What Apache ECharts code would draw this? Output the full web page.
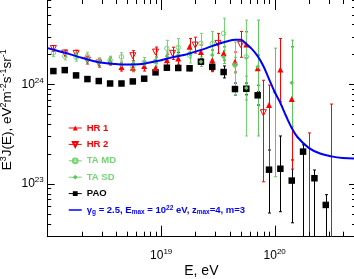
<!DOCTYPE html>
<html><head><meta charset="utf-8">
<script src="https://cdn.jsdelivr.net/npm/echarts@6/dist/echarts.min.js"></script>
<style>html,body{margin:0;padding:0;background:#fff}#c{width:354px;height:279px}</style>
</head><body><div id="c"></div>
<script>
// ---- axis ranges / ticks ----
const XMIN = 1e18, XMAX = 5.1e20, YMIN = 2.95e22, YMAX = 7.2e24;
const xMajor = [1e19, 1e20];
const xMinor = [2e18,3e18,4e18,5e18,6e18,7e18,8e18,9e18,2e19,3e19,4e19,5e19,6e19,7e19,8e19,9e19,2e20,3e20,4e20,5e20];
const yMajor = [1e23, 1e24];
const yMinor = [3e22,4e22,5e22,6e22,7e22,8e22,9e22,2e23,3e23,4e23,5e23,6e23,7e23,8e23,9e23,2e24,3e24,4e24,5e24,6e24,7e24];

// ---- HR 1 ----
const hr1E  = [3.548e18,4.467e18,5.623e18,7.079e18,8.913e18,1.122e19,1.413e19,1.778e19,2.239e19,2.818e19,3.548e19,4.467e19,5.623e19,7.079e19,8.913e19,1.122e20,1.413e20];
const hr1V  = [1.71e24,1.49e24,1.47e24,1.53e24,1.46e24,1.75e24,1.82e24,2.38e24,2.11e24,1.75e24,2.05e24,1.69e24,2.52e24,1.45e24,6.2e23,1.41e24,7.13e23];
const hr1EbE = [3.548e18,4.467e18,5.623e18,7.079e18,8.913e18,1.122e19,1.413e19,1.778e19,2.239e19,2.818e19,3.548e19,4.467e19,5.623e19,7.079e19,8.913e19,1.122e20,1.413e20,1.995e20,3.162e20];
const hr1Lo = [1.56e24,1.36e24,1.34e24,1.36e24,1.30e24,1.53e24,1.59e24,1.97e24,1.79e24,1.34e24,1.75e24,1.33e24,1.84e24,9.8e23,1.45e23,6.69e23,1.41e23,1e21,1e21];
const hr1Hi = [1.88e24,1.64e24,1.61e24,1.71e24,1.64e24,2.01e24,2.09e24,2.89e24,2.48e24,2.21e24,2.38e24,2.11e24,3.37e24,1.97e24,9.84e23,2.89e24,2.38e24,3.25e23,6.34e23];

// ---- HR 2 ----
const hr2E  = [1.122e18,1.413e18,1.778e18,2.239e18,2.818e18,5.623e18,8.913e18,1.259e19,1.995e19,3.162e19,5.012e19,7.943e19];
const hr2V  = [2.29e24,2.06e24,2.05e24,1.75e24,1.64e24,1.94e24,2.11e24,2.05e24,2.48e24,2.58e24,2.52e24,5.19e23];
const hr2Lo = [2.14e24,1.92e24,1.91e24,1.60e24,1.49e24,1.73e24,1.88e24,1.78e24,2.06e24,2.05e24,1.87e24,1.05e23];
const hr2Hi = [2.45e24,2.21e24,2.20e24,1.92e24,1.80e24,2.18e24,2.37e24,2.36e24,2.98e24,3.25e24,3.40e24,1.10e24];

// ---- TA MD ----
const tamdE  = [1.122e18,1.413e18,1.778e18,2.239e18,2.818e18,3.548e18,4.467e18,5.623e18,7.079e18,8.913e18,1.122e19,1.413e19,1.778e19,2.239e19,2.818e19,3.548e19,4.467e19,5.623e19];
const tamdV  = [2.07e24,1.92e24,1.87e24,1.92e24,1.69e24,1.75e24,1.89e24,1.50e24,1.67e24,1.69e24,2.30e24,2.35e24,1.97e24,2.58e24,2.58e24,3.25e24,1.56e24,1.89e24];
const tamdLo = [1.90e24,1.76e24,1.71e24,1.76e24,1.55e24,1.60e24,1.72e24,1.36e24,1.51e24,1.52e24,1.91e24,1.91e24,1.64e24,2.05e24,1.95e24,1.97e24,7.8e23,3.03e23];
const tamdHi = [2.26e24,2.10e24,2.04e24,2.10e24,1.85e24,1.92e24,2.08e24,1.66e24,1.86e24,1.88e24,2.77e24,2.89e24,2.37e24,3.25e24,3.40e24,4.62e24,2.67e24,4.42e24];

// ---- TA SD ----
const tasdE  = [1.778e18,2.239e18,2.818e18,3.548e18,4.467e18,5.623e18,7.079e18,8.913e18,1.122e19,1.413e19,1.778e19,2.239e19,2.818e19,3.548e19,4.467e19,5.623e19,7.079e19,1e20,1.413e20];
const tasdV  = [1.97e24,1.75e24,1.64e24,1.71e24,1.56e24,1.60e24,1.60e24,1.75e24,1.92e24,1.97e24,2.06e24,1.69e24,1.97e24,1.88e24,1.56e24,9.2e23,1.50e24,8.37e23,1.04e24];
const tasdLo = [1.84e24,1.63e24,1.53e24,1.60e24,1.45e24,1.49e24,1.49e24,1.63e24,1.75e24,1.80e24,1.84e24,1.51e24,1.73e24,1.62e24,1.30e24,6.96e23,3.03e23,1.18e23,3.76e23];
const tasdHi = [2.11e24,1.88e24,1.76e24,1.83e24,1.67e24,1.71e24,1.71e24,1.88e24,2.11e24,2.16e24,2.31e24,1.89e24,2.24e24,2.18e24,1.87e24,1.21e24,4.42e24,2.31e24,2.78e24];

// ---- PAO ----
const paoE  = [1.122e18,1.413e18,1.778e18,2.239e18,2.818e18,3.548e18,4.467e18,5.623e18,7.079e18,8.913e18,1.122e19,1.413e19,1.778e19,2.239e19,2.818e19,3.548e19,4.467e19,5.623e19,7.079e19,8.913e19,1.122e20,1.413e20,1.778e20,2.239e20,2.818e20];
const paoV  = [1.36e24,1.39e24,1.23e24,1.13e24,1.08e24,1.02e24,1.02e24,1.07e24,1.14e24,1.32e24,1.47e24,1.46e24,1.45e24,1.69e24,1.50e24,1.33e24,8.97e23,9.03e23,7.76e23,1.39e23,1.42e23,1.08e23,2.11e23,1.14e23,6.15e22];
const paoLo = [1.30e24,1.33e24,1.18e24,1.08e24,1.03e24,9.75e23,9.75e23,1.02e24,1.09e24,1.26e24,1.40e24,1.38e24,1.37e24,1.59e24,1.37e24,1.16e24,7.8e23,7.85e23,6.2e23,5.1e22,5.26e22,4.07e22,1e21,1e21,1e21];
const paoHi = [1.42e24,1.45e24,1.29e24,1.18e24,1.13e24,1.07e24,1.07e24,1.12e24,1.19e24,1.38e24,1.54e24,1.54e24,1.54e24,1.80e24,1.65e24,1.53e24,1.03e24,1.03e24,8.43e23,2.19e23,3.03e23,1.74e23,2.47e23,1.38e23,7.8e22];

// ---- model curve ----
const fitE = [1e18,1.259e18,1.585e18,1.995e18,2.512e18,3.162e18,3.981e18,5.012e18,6.310e18,7.943e18,1e19,1.259e19,1.585e19,1.995e19,2.512e19,3.162e19,3.981e19,4.467e19,5.012e19,5.623e19,6.310e19,7.079e19,7.943e19,8.913e19,1e20,1.122e20,1.259e20,1.413e20,1.585e20,1.995e20,2.512e20,3.162e20,3.981e20,5.012e20];
const fitV = [2.31e24,2.15e24,2.00e24,1.85e24,1.72e24,1.64e24,1.60e24,1.58e24,1.59e24,1.66e24,1.75e24,1.87e24,1.97e24,2.13e24,2.31e24,2.54e24,2.74e24,2.80e24,2.81e24,2.54e24,2.26e24,1.92e24,1.53e24,1.13e24,8.37e23,6.49e23,4.81e23,3.65e23,2.96e23,2.30e23,2.02e23,1.89e23,1.82e23,1.80e23];

const RED = '#ff0000', GREEN = '#74d474', GREEN2 = '#5cc85c', BLUE = '#0000ff';
const FONT = 'Liberation Sans';

function zip(a, b) { return a.map((v, i) => [v, b[i]]); }

function errSeries(E, lo, hi, color) {
  return {
    type: 'custom', silent: true, z: 2,
    data: E.map((e, i) => [e, lo[i], hi[i]]),
    encode: {x: 0, y: [1, 2]},
    renderItem(params, api) {
      const cs = params.coordSys;
      const e = api.value(0);
      const top = api.coord([e, api.value(2)]);
      const bot = api.coord([e, api.value(1)]);
      const x = Math.round(top[0]) + 0.5;
      const y1 = Math.max(cs.y, top[1]);
      const y2 = Math.min(cs.y + cs.height, bot[1]);
      const st = {stroke: color, lineWidth: 1};
      const ch = [{type: 'line', shape: {x1: x, y1: y1, x2: x, y2: y2}, style: st}];
      if (top[1] >= cs.y) ch.push({type: 'line', shape: {x1: x - 1.5, y1: y1, x2: x + 1.5, y2: y1}, style: st});
      if (bot[1] <= cs.y + cs.height) ch.push({type: 'line', shape: {x1: x - 1.5, y1: y2, x2: x + 1.5, y2: y2}, style: st});
      return {type: 'group', children: ch};
    }
  };
}

function tickSeries(vals, axis, len, lenFar) {
  return {
    type: 'custom', silent: true, z: 5,
    data: vals.map(v => axis === 'x' ? [v, YMIN] : [XMIN, v]),
    renderItem(params, api) {
      const cs = params.coordSys;
      const st = {stroke: '#000', lineWidth: 1};
      if (axis === 'x') {
        const x = Math.round(api.coord([api.value(0), YMIN])[0]) + 0.5;
        const b = cs.y + cs.height;
        return {type: 'group', children: [
          {type: 'line', shape: {x1: x, y1: b, x2: x, y2: b - len}, style: st},
          {type: 'line', shape: {x1: x, y1: cs.y, x2: x, y2: cs.y + lenFar}, style: st}
        ]};
      } else {
        const y = Math.round(api.coord([XMIN, api.value(1)])[1]) + 0.5;
        const r = cs.x + cs.width;
        return {type: 'group', children: [
          {type: 'line', shape: {x1: cs.x, y1: y, x2: cs.x + len, y2: y}, style: st},
          {type: 'line', shape: {x1: r, y1: y, x2: r - lenFar, y2: y}, style: st}
        ]};
      }
    }
  };
}

function pow10Label(v) {
  const l = Math.log10(v), r = Math.round(l);
  if (Math.abs(l - r) > 1e-6 || r === 18) return '';
  return '{b|10}{s|' + r + '}';
}
const labRich = {
  b: {fontFamily: FONT, fontSize: 12, lineHeight: 16, color: '#000'},
  s: {fontFamily: FONT, fontSize: 8, lineHeight: 16, verticalAlign: 'top', color: '#000'}
};

function ptSeries(name, E, V, symbol, size, color, extra) {
  return Object.assign({
    type: 'line', name: name, data: zip(E, V), symbol: symbol, symbolSize: size,
    showSymbol: true, lineStyle: {opacity: 0, width: 1, color: color},
    itemStyle: {color: color}, z: 3, silent: true
  }, extra || {});
}

const chart = echarts.init(document.getElementById('c'), null, {renderer: 'canvas'});
chart.setOption({
  animation: false,
  backgroundColor: '#fff',
  grid: {left: 47.7, right: -1, top: -1, bottom: 42.3, containLabel: false, outerBoundsMode: 'none'},
  xAxis: {
    type: 'log', logBase: 10, min: XMIN, max: XMAX,
    name: 'E, eV', nameLocation: 'middle', nameGap: 27, nameMoveOverlap: false,
    nameTextStyle: {fontFamily: FONT, fontSize: 14, color: '#000'},
    axisLine: {show: true, lineStyle: {color: '#000', width: 1}},
    axisTick: {show: false}, splitLine: {show: false}, minorTick: {show: false},
    axisLabel: {formatter: pow10Label, rich: labRich, margin: 11, showMinLabel: false, showMaxLabel: false}
  },
  yAxis: {
    type: 'log', logBase: 10, min: YMIN, max: YMAX,
    name: 'E{sp|3}J(E), eV{sp|2}m{sp|-2}s{sp|-1}sr{sp|-1}', nameLocation: 'middle', nameGap: 32, nameMoveOverlap: false,
    nameTextStyle: {fontFamily: FONT, fontSize: 13.5, lineHeight: 17, color: '#000', padding: [0, 0, 0, 16],
      rich: {sp: {fontFamily: FONT, fontSize: 9, lineHeight: 17, verticalAlign: 'top', color: '#000'}}},
    axisLine: {show: true, lineStyle: {color: '#000', width: 1}},
    axisTick: {show: false}, splitLine: {show: false}, minorTick: {show: false},
    axisLabel: {formatter: pow10Label, rich: labRich, margin: 4, showMinLabel: false, showMaxLabel: false}
  },
  legend: {
    orient: 'vertical', left: 63, top: 117.5, itemWidth: 13, itemHeight: 6, itemGap: 5.4,
    selectedMode: false,
    textStyle: {fontFamily: FONT, fontWeight: 'bold', fontSize: 9.5, lineHeight: 11,
      rich: {
        sub: {fontFamily: FONT, fontWeight: 'bold', fontSize: 6.5, lineHeight: 11, verticalAlign: 'bottom', color: BLUE},
        sup: {fontFamily: FONT, fontWeight: 'bold', fontSize: 6.5, lineHeight: 11, verticalAlign: 'top', color: BLUE},
        n: {fontFamily: FONT, fontWeight: 'bold', fontSize: 9.5, color: BLUE, lineHeight: 11}
      }},
    formatter: function (name) {
      if (name === 'model') return '{n|γ}{sub|g}{n| = 2.5, E}{sub|max}{n| = 10}{sup|22}{n| eV, z}{sub|max}{n|=4, m=3}';
      return name;
    },
    data: [
      {name: 'HR 1', textStyle: {color: RED}, lineStyle: {opacity: 1, width: 1, color: RED}},
      {name: 'HR 2', textStyle: {color: RED}, lineStyle: {opacity: 1, width: 1, color: RED}},
      {name: 'TA MD', textStyle: {color: GREEN}, lineStyle: {opacity: 1, width: 1, color: GREEN}},
      {name: 'TA SD', textStyle: {color: GREEN}, lineStyle: {opacity: 1, width: 1, color: GREEN}},
      {name: 'PAO', textStyle: {color: '#000'}, lineStyle: {opacity: 1, width: 1, color: '#000'}},
      {name: 'model', textStyle: {color: BLUE}, itemStyle: {opacity: 0}, lineStyle: {width: 1.5, color: BLUE, opacity: 1}}
    ]
  },
  series: [
    errSeries(paoE, paoLo, paoHi, '#000'),
    errSeries(hr1EbE, hr1Lo, hr1Hi, RED),
    errSeries(hr2E, hr2Lo, hr2Hi, RED),
    errSeries(tamdE, tamdLo, tamdHi, GREEN),
    errSeries(tasdE, tasdLo, tasdHi, GREEN2),
    ptSeries('PAO', paoE, paoV, 'rect', 6.5, '#000'),
    ptSeries('HR 1', hr1E, hr1V, 'triangle', 6, RED),
    ptSeries('HR 2', hr2E, hr2V, 'triangle', 6, RED, {
      symbolRotate: 180,
      itemStyle: {color: 'rgba(255,255,255,0)', borderColor: RED, borderWidth: 1}}),
    ptSeries('TA MD', tamdE, tamdV, 'circle', 4.5, GREEN, {
      itemStyle: {color: 'rgba(255,255,255,0)', borderColor: GREEN, borderWidth: 1}}),
    ptSeries('TA SD', tasdE, tasdV, 'diamond', 4.5, GREEN2),
    {type: 'line', name: 'model', data: zip(fitE, fitV), smooth: 0.4, symbol: 'none',
      lineStyle: {color: BLUE, width: 2}, itemStyle: {color: BLUE}, z: 4, silent: true},
    tickSeries(xMajor, 'x', 11, 11),
    tickSeries(xMinor, 'x', 5, 5),
    tickSeries(yMajor, 'y', 7, 6),
    tickSeries(yMinor, 'y', 3.5, 3)
  ]
});
</script></body></html>
